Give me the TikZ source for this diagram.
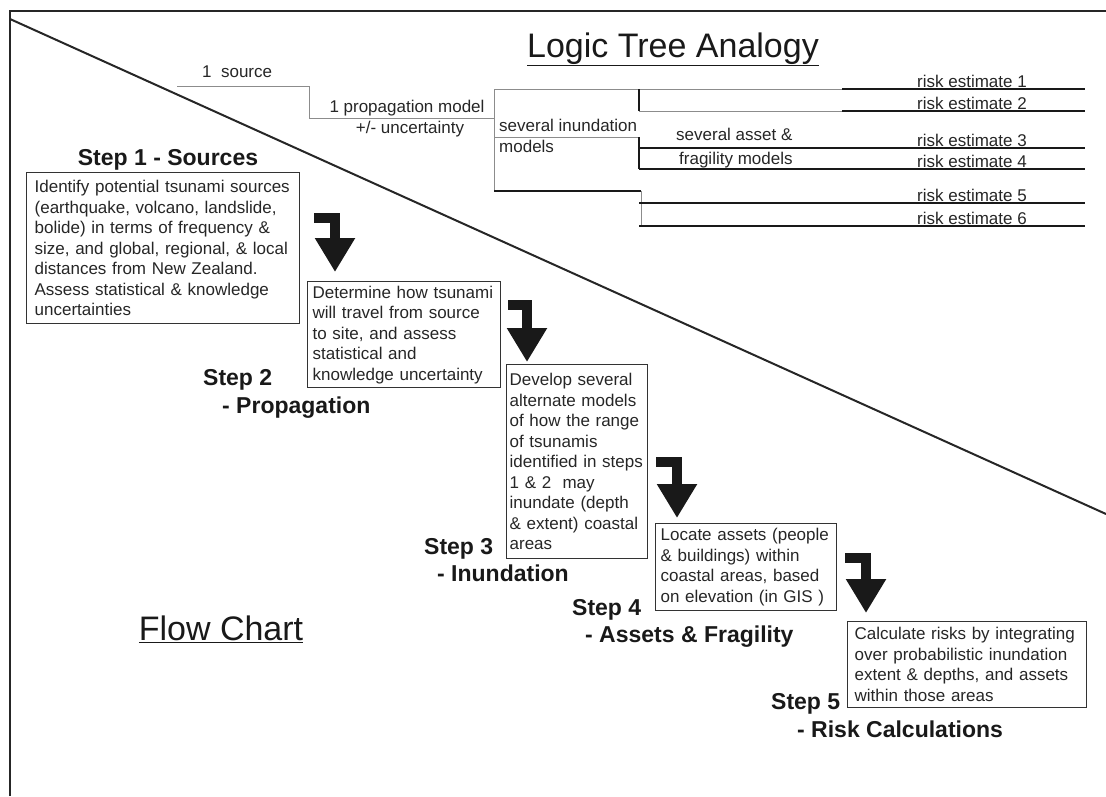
\documentclass[tikz,border=0pt]{standalone}
\usepackage{fontspec}
\setmainfont{Liberation Sans}
\usetikzlibrary{arrows.meta,calc}

\newcommand{\boxtext}{\fontsize{17}{20.5}\selectfont}
\newcommand{\steptext}{\fontsize{23}{27}\selectfont\bfseries}
\newcommand{\headtext}{\fontsize{34}{40}\selectfont}

\tikzset{
  stepbox/.style={draw=black!80, line width=1.3pt, anchor=north west, align=left,
    inner xsep=5pt, inner ysep=3pt, font=\boxtext, text=black!85},
  steplabel/.style={anchor=base west, inner sep=0pt, font=\steptext, text=black!90},
  treelabel/.style={inner sep=0pt, font=\boxtext, text=black!85},
  thinbranch/.style={black!45, line width=0.9pt},
  boldbranch/.style={black!90, line width=2pt},
  flowarrow/.style={black!90, line width=10pt, line join=miter,
    -{Triangle[length=34pt,width=38pt]}},
}

\begin{document}
\begin{tikzpicture}[x=1pt,y=-1pt]
    \useasboundingbox (0,0) rectangle (1106,796);
    % frame and dividing line
    \draw[line width=2.2pt,black!85] (10,796) -- (10,11) -- (1106,11);
    \draw[line width=2pt,black!85] (10,19) -- (1106,514);

    % logic tree
    \node[font=\headtext, anchor=base, text=black!90] (lta) at (673,57) {\underline{Logic Tree Analogy}};
    \draw[thinbranch] (177,86) -- (309,86) -- (309,118) -- (494,118);
    \draw[thinbranch] (494,89) -- (494,191);
    \draw[thinbranch] (494,89) -- (842,89);
    \draw[thinbranch] (494,137) -- (639,137);
    \draw[thinbranch] (639,111) -- (842,111);
    \draw[thinbranch] (641,191) -- (641,226);
    \draw[boldbranch] (639,89) -- (639,111);
    \draw[boldbranch] (639,137) -- (639,169);
    \draw[boldbranch] (494,191) -- (641,191);
    \foreach \y in {89,111} \draw[boldbranch] (842,\y) -- (1085,\y);
    \foreach \y in {148,169,203,226} \draw[boldbranch] (639,\y) -- (1085,\y);
    \node[treelabel, anchor=base west] (src) at (202,77) {1\ \ source};
    \node[treelabel, anchor=base] (prop) at (407,112) {1 propagation model};
    \node[treelabel, anchor=base] (propunc) at (410,133) {+/- uncertainty};
    \node[treelabel, anchor=base west] (inun) at (499,131) {several inundation};
    \node[treelabel, anchor=base west] (inunb) at (499,152) {models};
    \node[treelabel, anchor=base west] (asset) at (676,140) {several asset \&};
    \node[treelabel, anchor=base west] (assetb) at (679,164) {fragility models};
    \node[treelabel, anchor=base east] (r1) at (1027,87) {risk estimate 1};
    \node[treelabel, anchor=base east] (r2) at (1027,109) {risk estimate 2};
    \node[treelabel, anchor=base east] (r3) at (1027,146) {risk estimate 3};
    \node[treelabel, anchor=base east] (r4) at (1027,167) {risk estimate 4};
    \node[treelabel, anchor=base east] (r5) at (1027,201) {risk estimate 5};
    \node[treelabel, anchor=base east] (r6) at (1027,224) {risk estimate 6};

    % flow chart
    \node[font=\headtext, anchor=base, text=black!90] (fc) at (221,640) {\underline{Flow Chart}};

    \node[stepbox, inner xsep=8pt, text width=257pt, minimum height=151pt] (b1) at (26,172)
      {Identify potential tsunami sources\\(earthquake, volcano, landslide,\\bolide) in terms of frequency \&\\size, and global, regional, \& local\\distances from New Zealand.\\Assess statistical \& knowledge\\uncertainties};
    \node[stepbox, text width=183pt, minimum height=106pt] (b2) at (307,281)
      {Determine how tsunami\\will travel from source\\to site, and assess\\statistical and\\knowledge uncertainty};
    \node[stepbox, inner xsep=3pt, text width=135pt, minimum height=194pt] (b3) at (506,364)
      {Develop several\\alternate models\\of how the range\\of tsunamis\\identified in steps\\1 \& 2\ \ may\\inundate (depth\\\& extent) coastal\\areas};
    \node[stepbox, text width=171pt, minimum height=87pt] (b4) at (655,523)
      {Locate assets (people\\\& buildings) within\\coastal areas, based\\on elevation (in GIS )};
    \node[stepbox, inner xsep=7pt, text width=225pt, minimum height=86pt] (b5) at (847,621)
      {Calculate risks by integrating\\over probabilistic inundation\\extent \& depths, and assets\\within those areas};

    \node[steplabel, anchor=base] (s1) at (168,165) {Step 1 - Sources};
    \node[steplabel] (s2) at (203,385) {Step 2};
    \node[steplabel] (s2b) at (222,413) {- Propagation};
    \node[steplabel] (s3) at (424,554) {Step 3};
    \node[steplabel] (s3b) at (437,581) {- Inundation};
    \node[steplabel] (s4) at (572,615) {Step 4};
    \node[steplabel] (s4b) at (585,642) {- Assets \& Fragility};
    \node[steplabel] (s5) at (771,709) {Step 5};
    \node[steplabel] (s5b) at (797,737) {- Risk Calculations};

    \draw[flowarrow] ($(b1.north east)+(14,46)$) -| ($(b2.north west)+(28,-9)$);
    \draw[flowarrow] ($(b2.north east)+(7,24)$) -| ($(b3.north west)+(21,-2)$);
    \draw[flowarrow] ($(b3.north east)+(8,98)$) -| ($(b4.north west)+(22,-5)$);
    \draw[flowarrow] ($(b4.north east)+(8,35)$) -| ($(b5.north west)+(19,-8)$);
\end{tikzpicture}
\end{document}
